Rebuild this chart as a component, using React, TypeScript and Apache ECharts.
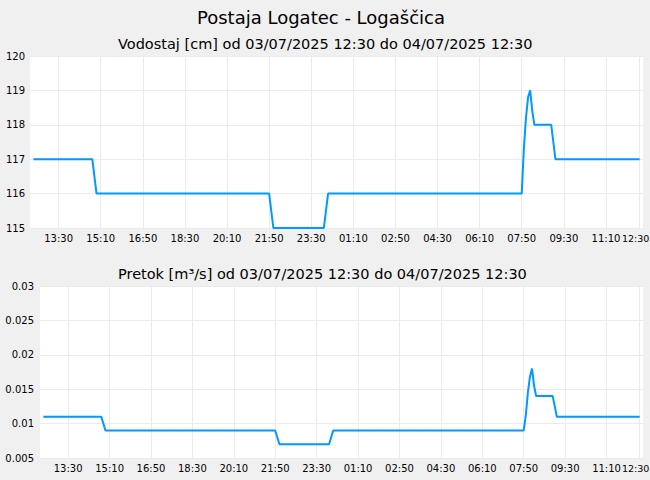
import React, { useEffect, useRef } from "react";
import * as echarts from "echarts";

// minutes from 03/07/2025 12:30
const levelTimes = [0, 140, 150, 560, 570, 690, 700, 1160, 1165, 1170, 1175, 1180, 1185, 1190, 1230, 1235, 1240, 1440];
const levelValues = [117, 117, 116, 116, 115, 115, 116, 116, 117.3, 118.2, 118.8, 119, 118.4, 118, 118, 117.5, 117, 117];

const flowTimes = [0, 140, 150, 560, 570, 690, 700, 1160, 1165, 1170, 1175, 1180, 1185, 1190, 1230, 1235, 1240, 1440];
const flowValues = [0.011, 0.011, 0.009, 0.009, 0.007, 0.007, 0.009, 0.009, 0.0112, 0.0145, 0.0168, 0.018, 0.0155, 0.014, 0.014, 0.0125, 0.011, 0.011];

const tickMinutes = [60, 160, 260, 360, 460, 560, 660, 760, 860, 960, 1060, 1160, 1260, 1360, 1440];

const mainTitle = "Postaja Logatec - Logaščica";
const levelTitle = "Vodostaj [cm] od 03/07/2025 12:30 do 04/07/2025 12:30";
const flowTitle = "Pretok [m³/s] od 03/07/2025 12:30 do 04/07/2025 12:30";

const FONT = "DejaVu Sans";
const LINE = "#0099ff";
const GRID_LINE = "#ebebeb";

const fmtTime = (v: number) => {
  const total = (12 * 60 + 30 + v) % (24 * 60);
  const h = Math.floor(total / 60);
  const m = total % 60;
  return `${String(h).padStart(2, "0")}:${String(m).padStart(2, "0")}`;
};

const xAxisFor = (gridIndex: number) => ({
  type: "value",
  gridIndex,
  min: -8,
  max: 1448,
  axisLine: { show: false },
  axisTick: { show: false, customValues: tickMinutes },
  axisLabel: {
    customValues: tickMinutes,
    // last label nudged a few px left so it stays inside the page
    formatter: (v: number) => (v >= 1440 ? `{end|${fmtTime(v)}}` : fmtTime(v)),
    rich: { end: { padding: [0, 8, 0, 0], color: "#000", fontFamily: FONT, fontSize: 9.5 } },
    color: "#000",
    fontFamily: FONT,
    fontSize: 10,
    margin: 5,
    hideOverlap: false,
    showMaxLabel: true,
    showMinLabel: true,
  },
  splitLine: { show: true, lineStyle: { color: GRID_LINE, width: 1 } },
});

const App: React.FC = () => {
  const chartRef = useRef<HTMLDivElement | null>(null);

  useEffect(() => {
    document.body.style.margin = "0";
    if (!chartRef.current) return;
    const chart = echarts.init(chartRef.current, undefined, { renderer: "svg" });
    chart.setOption({
      animation: false,
      backgroundColor: "#f0f0f0",
      textStyle: { fontFamily: FONT },
      title: [
        {
          text: mainTitle,
          left: 192,
          top: 3,
          textStyle: { fontFamily: FONT, fontSize: 18, fontWeight: "normal", color: "#000" },
        },
        {
          text: levelTitle,
          left: 113,
          top: 31,
          textStyle: { fontFamily: FONT, fontSize: 14.5, fontWeight: "normal", color: "#000" },
        },
        {
          text: flowTitle,
          left: 113,
          top: 261,
          textStyle: { fontFamily: FONT, fontSize: 14.5, fontWeight: "normal", color: "#000" },
        },
      ],
      grid: [
        {
          left: 30, right: 7, top: 56, height: 172,
          show: true, backgroundColor: "#fff", borderWidth: 0,
          containLabel: false, outerBoundsMode: "none",
        },
        {
          left: 40, right: 7, top: 286, height: 172,
          show: true, backgroundColor: "#fff", borderWidth: 0,
          containLabel: false, outerBoundsMode: "none",
        },
      ],
      xAxis: [xAxisFor(0), xAxisFor(1)],
      yAxis: [
        {
          type: "value",
          gridIndex: 0,
          min: 115,
          max: 120,
          interval: 1,
          axisLine: { show: false },
          axisTick: { show: false },
          axisLabel: { color: "#000", fontFamily: FONT, fontSize: 10, margin: 5 },
          splitLine: { show: true, lineStyle: { color: GRID_LINE, width: 1 } },
        },
        {
          type: "value",
          gridIndex: 1,
          min: 0.005,
          max: 0.03,
          interval: 0.005,
          axisLine: { show: false },
          axisTick: { show: false },
          axisLabel: {
            color: "#000",
            fontFamily: FONT,
            fontSize: 10,
            margin: 6,
            formatter: (v: number) => String(+v.toFixed(3)),
          },
          splitLine: { show: true, lineStyle: { color: GRID_LINE, width: 1 } },
        },
      ],
      series: [
        {
          type: "line",
          xAxisIndex: 0,
          yAxisIndex: 0,
          data: levelTimes.map((t, i) => [t, levelValues[i]]),
          symbol: "none",
          lineStyle: { color: LINE, width: 2 },
        },
        {
          type: "line",
          xAxisIndex: 1,
          yAxisIndex: 1,
          data: flowTimes.map((t, i) => [t, flowValues[i]]),
          symbol: "none",
          lineStyle: { color: LINE, width: 2 },
        },
      ],
    });
    return () => {
      chart.dispose();
    };
  }, []);

  return <div ref={chartRef} style={{ width: 650, height: 480 }} />;
};

export default App;
